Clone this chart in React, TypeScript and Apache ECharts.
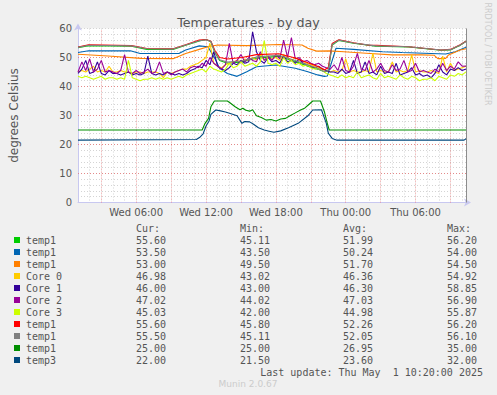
import { useEffect, useRef } from 'react';
import * as echarts from 'echarts';

// time axis: minutes since Wed 00:00
const START = 60;
const END = 2060;
const STEP = 20;
const X_LABELS: Record<number, string> = {
  360: 'Wed 06:00',
  720: 'Wed 12:00',
  1080: 'Wed 18:00',
  1440: 'Thu 00:00',
  1800: 'Thu 06:00',
};
const MAJOR_X = [180, 360, 540, 720, 900, 1080, 1260, 1440, 1620, 1800, 1980];
const MAJOR_Y = [10, 20, 30, 40, 50];

// legend
const NAMES = ['temp1', 'temp1', 'temp1', 'Core 0', 'Core 1', 'Core 2', 'Core 3', 'temp1', 'temp1', 'temp1', 'temp3'];
const COLORS = ['#00cc00', '#0066b3', '#ff8000', '#ffcc00', '#330099', '#990099', '#ccff00', '#ff0000', '#808080', '#008f00', '#00487d'];
const CUR = ['55.60', '53.50', '53.00', '46.98', '46.00', '47.02', '45.03', '55.60', '55.50', '25.00', '22.00'];
const MIN = ['45.11', '43.50', '49.50', '43.02', '43.00', '44.02', '42.00', '45.80', '45.11', '25.00', '21.50'];
const AVG = ['51.99', '50.24', '51.70', '46.36', '46.30', '47.03', '44.98', '52.26', '52.05', '26.95', '23.60'];
const MAX = ['56.20', '54.00', '54.50', '54.92', '58.85', '56.90', '55.87', '56.20', '56.10', '35.00', '32.00'];

// smooth series: [minute, value]
const TEMP1_GREEN = [
  [60, 53.4], [115, 54.1], [335, 53.9], [415, 52.8], [550, 52.8], [615, 54.2], [685, 55.7], [720, 56.2], [745, 55.4],
  [765, 51.8], [790, 49], [830, 48], [905, 48.5], [980, 49.8], [1095, 50.4], [1180, 48.6], [1245, 47], [1295, 46],
  [1330, 45.11], [1350, 45.3], [1370, 54.3], [1405, 55.9], [1480, 54.9], [1595, 53.9], [1765, 53.6], [1930, 52.5],
  [1980, 52.6], [2030, 54.2], [2060, 55.6],
];
const TEMP1_BLUE = [
  [60, 51.7], [115, 52.3], [330, 52.3], [380, 51.4], [580, 51.4], [615, 52.6], [685, 54], [730, 53.7], [765, 49.7],
  [790, 46.3], [830, 44.5], [880, 43.5], [930, 45.1], [980, 46.8], [1080, 47.4], [1180, 46.3], [1245, 45.1],
  [1295, 44], [1330, 43.5], [1345, 43.6], [1390, 53.2], [1480, 52.8], [1630, 52], [1730, 51.7], [1880, 51.4],
  [1955, 51.2], [2005, 52], [2060, 53.5],
];
const TEMP1_ORANGE = [
  [60, 51.1], [215, 50.5], [385, 49.7], [550, 49.6], [615, 51.4], [685, 52.8], [730, 53.7], [780, 54.3], [930, 54.1],
  [1095, 54.5], [1215, 54.3], [1245, 53.2], [1290, 52.2], [1355, 52.3], [1430, 52], [1565, 51.4], [1680, 50.9],
  [1830, 50.9], [1895, 50.8], [1915, 49.6], [1955, 49.7], [1970, 50.9], [2030, 52.6], [2060, 53],
];
const TEMP1_RED = [
  [60, 53.6], [115, 54.4], [335, 54.1], [415, 53.1], [550, 53], [615, 54.4], [685, 56], [720, 56.2], [745, 55.6],
  [765, 52.5], [790, 50], [830, 49.5], [905, 50], [980, 51], [1095, 51.3], [1180, 49.8], [1245, 48.2], [1295, 47],
  [1330, 45.8], [1350, 46.5], [1370, 54.8], [1405, 56.1], [1480, 55.1], [1560, 54.2], [1600, 54.2], [1765, 53.7],
  [1930, 52.6], [1980, 52.8], [2030, 54.4], [2060, 55.6],
];
const TEMP1_GRAY = [
  [60, 53.5], [115, 54.2], [335, 54], [415, 53], [550, 52.9], [615, 54.3], [685, 55.8], [720, 56.1], [745, 55.5],
  [765, 52], [790, 49.2], [830, 48.4], [905, 48.8], [980, 50.2], [1095, 50.8], [1180, 49], [1245, 47.4], [1295, 46.3],
  [1330, 45.11], [1350, 45.5], [1370, 54.5], [1405, 56], [1480, 55], [1595, 54], [1765, 53.7], [1930, 52.6],
  [1980, 52.7], [2030, 54.3], [2060, 55.5],
];
const TEMP1_DARKGREEN = [
  [60, 25], [700, 25], [715, 27.3], [733, 29], [745, 33], [763, 35], [830, 35], [845, 34.3], [870, 33], [895, 32],
  [910, 32.5], [925, 31.8], [945, 31.5], [960, 32], [980, 29.9], [1005, 29.3], [1030, 28.4], [1055, 28.6], [1080, 28.1],
  [1105, 28.8], [1130, 29], [1155, 30], [1180, 30.9], [1205, 31.8], [1230, 32.6], [1250, 33.8], [1270, 35],
  [1310, 35], [1330, 31.3], [1345, 27.3], [1355, 25], [2060, 25],
];
const TEMP3 = [
  [60, 21.5], [670, 21.7], [690, 22.6], [705, 23.7], [720, 26.4], [735, 28], [745, 30.4], [770, 31.9], [795, 31.6],
  [820, 31.2], [845, 30.7], [880, 29.9], [905, 27.3], [920, 27.9], [945, 27.8], [965, 27], [990, 25.8], [1020, 25],
  [1045, 24.6], [1070, 24.2], [1105, 24.7], [1145, 25.8], [1195, 27.3], [1245, 29.9], [1270, 31.9], [1315, 32],
  [1340, 27.3], [1350, 23.9], [1370, 22.1], [1395, 21.5], [2050, 21.5], [2060, 22],
];

// core temperatures every 20 minutes from START
const CORE0 = [
  45, 45.5, 45, 46, 47, 45, 45.5, 45, 47, 45,
  45, 45.5, 45, 45, 44.5, 45, 45, 44.5, 45, 45,
  45, 44.5, 43.02, 45, 44.5, 45, 45.5, 46, 46, 47,
  47.5, 48, 49, 50, 54.92, 48, 47, 46.5, 47.5, 48,
  48.5, 49, 48.5, 49.5, 49, 50, 49, 51, 49, 50,
  49.5, 50, 49, 51, 50, 49, 50, 49, 48.5, 48,
  47.5, 47, 46, 46, 45.5, 45, 45.5, 45, 45.5, 49.5,
  45, 45.5, 45, 45, 45.5, 45, 51.5, 45, 45.5, 45,
  45, 48.5, 45, 45.5, 45, 45.5, 50.9, 45, 45.5, 45,
  45, 45.5, 45, 44.5, 50.5, 45, 48, 45.5, 46, 46.5,
  46.98,
];
const CORE1 = [
  44.5, 46, 49, 44.5, 45, 48.5, 44.5, 44, 45.5, 44.5,
  44.5, 44, 44.5, 45, 44, 44.5, 44, 44.5, 50.5, 44.5,
  44, 44.5, 44, 45, 44.5, 44, 44.5, 44, 44.5, 45.5,
  46, 47, 46.5, 49, 47.5, 52, 47, 46, 45.5, 46.5,
  48, 47.5, 49, 48, 48.5, 58.85, 52, 49, 48, 50,
  48.5, 49, 48, 50.5, 48.5, 49, 48, 49.5, 48, 47.5,
  47, 46.5, 47, 46, 45.5, 45, 45, 44.5, 46, 44.5,
  45, 49, 44.5, 45, 48.5, 44.5, 45, 44, 47, 44.5,
  45, 44.5, 48, 44, 44.5, 45, 46.5, 44, 44.5, 43.5,
  44, 43, 44.5, 47.5, 45, 44, 46, 45.5, 46.5, 45.5,
  46,
];
const CORE2 = [
  45, 48.5, 45.5, 49.5, 45, 46, 49, 45, 45.5, 45,
  44.5, 45.5, 51, 45, 44.5, 45.5, 44.5, 45, 46, 44.5,
  45, 48.5, 44.5, 45, 44.02, 45, 45.5, 46, 45, 46.5,
  47, 46.5, 48, 47, 50, 48, 47, 46, 47.5, 54.9,
  48, 49, 51, 48.5, 50, 49, 48.5, 52, 49, 50.5,
  49, 51, 49.5, 56, 50, 56.9, 49.5, 50, 48.5, 49,
  48, 47.5, 48, 47, 46.5, 46, 47.5, 45.5, 50, 45.5,
  45, 47, 51.4, 46, 45.5, 49, 45, 46, 48, 45.5,
  45, 47.5, 45.5, 46, 49, 45, 45.5, 48, 45, 45.5,
  45, 44.5, 46, 45, 48, 45.5, 47, 46, 48.5, 47,
  47.02,
];
const CORE3 = [
  43.5, 43, 43.5, 43, 42.5, 43, 43.5, 42.5, 43, 43,
  42.5, 43, 42.5, 49, 43, 42.5, 42, 42.5, 42.5, 43,
  42.5, 43, 42.5, 43, 42.5, 43, 43.5, 43, 44, 44.5,
  45, 45.5, 46, 45, 47, 46, 45.5, 45, 46, 48,
  46.5, 47, 48.5, 47, 47.5, 48, 47, 48.5, 55.87, 48,
  47.5, 48, 47, 50, 48, 49, 47.5, 48, 47, 47.5,
  46.5, 46, 46.5, 45.5, 44.5, 44, 43.5, 43, 44, 43,
  43.5, 43, 45, 43, 43.5, 44, 43, 42.5, 44.5, 43,
  43.5, 43, 42.5, 44, 43, 42.5, 43.5, 43, 42, 42.5,
  42.5, 43, 42, 43.5, 43, 42.5, 44, 43.5, 44.5, 44,
  45.03,
];

const gridded = (arr: number[]) => arr.map((v, i) => [START + STEP * i, v]);

const SERIES_DATA = [
  TEMP1_GREEN, TEMP1_BLUE, TEMP1_ORANGE,
  gridded(CORE0), gridded(CORE1), gridded(CORE2), gridded(CORE3),
  TEMP1_RED, TEMP1_GRAY, TEMP1_DARKGREEN, TEMP3,
];

const TXT = '#555555';
const MONO = '10px "DejaVu Sans Mono", monospace';

export default function App() {
  const ref = useRef<HTMLDivElement>(null);
  useEffect(() => {
    document.body.style.margin = '0';
    document.body.style.background = '#f0f0f0';
    const chart = echarts.init(ref.current!, null, { renderer: 'svg' });

    const rowY = (i: number) => 240 + 12 * i;
    const legend: any[] = [];
    const cols = [136, 240, 343, 447];
    ['Cur:', 'Min:', 'Avg:', 'Max:'].forEach((h, k) => {
      legend.push({ type: 'text', x: cols[k], y: 228, style: { text: h, fill: TXT, font: MONO, textVerticalAlign: 'middle' } });
    });
    NAMES.forEach((n, i) => {
      const y = rowY(i);
      legend.push({ type: 'rect', shape: { x: 14, y: y - 3, width: 6, height: 6 }, style: { fill: COLORS[i] } });
      legend.push({ type: 'text', x: 26, y, style: { text: n, fill: TXT, font: MONO, textVerticalAlign: 'middle' } });
      [CUR[i], MIN[i], AVG[i], MAX[i]].forEach((v, k) => {
        legend.push({ type: 'text', x: cols[k], y, style: { text: v, fill: TXT, font: MONO, textVerticalAlign: 'middle' } });
      });
    });
    legend.push({
      type: 'text', x: 483, y: 372,
      style: { text: 'Last update: Thu May  1 10:20:00 2025', fill: TXT, font: MONO, textAlign: 'right', textVerticalAlign: 'middle' },
    });
    legend.push({
      type: 'text', x: 248, y: 384,
      style: { text: 'Munin 2.0.67', fill: '#cccccc', font: '9px "DejaVu Sans"', textAlign: 'center', textVerticalAlign: 'middle' },
    });
    legend.push({
      type: 'text', x: 487, y: 54, rotation: -Math.PI / 2,
      style: { text: 'RRDTOOL / TOBI OETIKER', fill: '#cccccc', font: '8px "DejaVu Sans"', textAlign: 'center', textVerticalAlign: 'middle' },
    });

    const series: any[] = SERIES_DATA.map((d, i) => ({
      type: 'line',
      name: NAMES[i],
      data: d,
      showSymbol: false,
      symbol: 'none',
      lineStyle: { color: COLORS[i], width: 1.1 },
      itemStyle: { color: COLORS[i] },
      silent: true,
      z: 3,
    }));
    series[0].markLine = {
      silent: true,
      symbol: ['none', 'none'],
      label: { show: false },
      z: 1,
      lineStyle: { color: 'rgba(255,0,0,0.35)', type: [1, 2], width: 1 },
      data: [
        ...MAJOR_X.map((v) => ({ xAxis: v })),
        ...MAJOR_Y.map((v) => ({ yAxis: v })),
        { xAxis: END, lineStyle: { color: '#8c8c8c', type: 'solid', width: 1 } },
      ],
    };

    chart.setOption({
      animation: false,
      backgroundColor: '#f0f0f0',
      title: {
        text: 'Temperatures - by day',
        left: 'center',
        top: 11,
        textStyle: { fontSize: 12.7, fontWeight: 'normal', color: TXT, fontFamily: 'DejaVu Sans' },
      },
      grid: { left: 66, right: 31, top: 28.5, bottom: 192.5, show: true, backgroundColor: '#ffffff', borderWidth: 0 },
      xAxis: {
        type: 'value',
        min: START,
        max: END,
        interval: 60,
        axisLine: { show: true, lineStyle: { color: '#c8c8f0' }, symbol: ['none', 'arrow'], symbolSize: [6, 7], symbolOffset: [0, 5] },
        axisTick: { show: false },
        splitLine: { show: true, lineStyle: { color: '#d4d4d4', type: [1, 2], width: 1 } },
        axisLabel: {
          margin: 5,
          color: TXT,
          fontSize: 10,
          fontFamily: 'DejaVu Sans',
          formatter: (v: number) => X_LABELS[v] || '',
        },
      },
      yAxis: {
        type: 'value',
        min: 0,
        max: 60,
        interval: 2,
        name: 'degrees Celsius',
        nameLocation: 'middle',
        nameRotate: 90,
        nameGap: 58,
        nameTextStyle: { color: TXT, fontSize: 12, fontFamily: 'DejaVu Sans' },
        axisLine: { show: true, lineStyle: { color: '#c8c8f0' }, symbol: ['none', 'arrow'], symbolSize: [6, 7], symbolOffset: [0, 5] },
        axisTick: { show: false },
        splitLine: { show: true, lineStyle: { color: '#d4d4d4', type: [1, 2], width: 1 } },
        axisLabel: {
          margin: 6,
          color: TXT,
          fontSize: 10,
          fontFamily: 'DejaVu Sans',
          formatter: (v: number) => (v % 10 === 0 ? String(v) : ''),
        },
      },
      series,
      graphic: legend,
    });
    return () => chart.dispose();
  }, []);
  return <div ref={ref} style={{ position: 'absolute', left: 0, top: 0, width: 497, height: 395 }} />;
}
